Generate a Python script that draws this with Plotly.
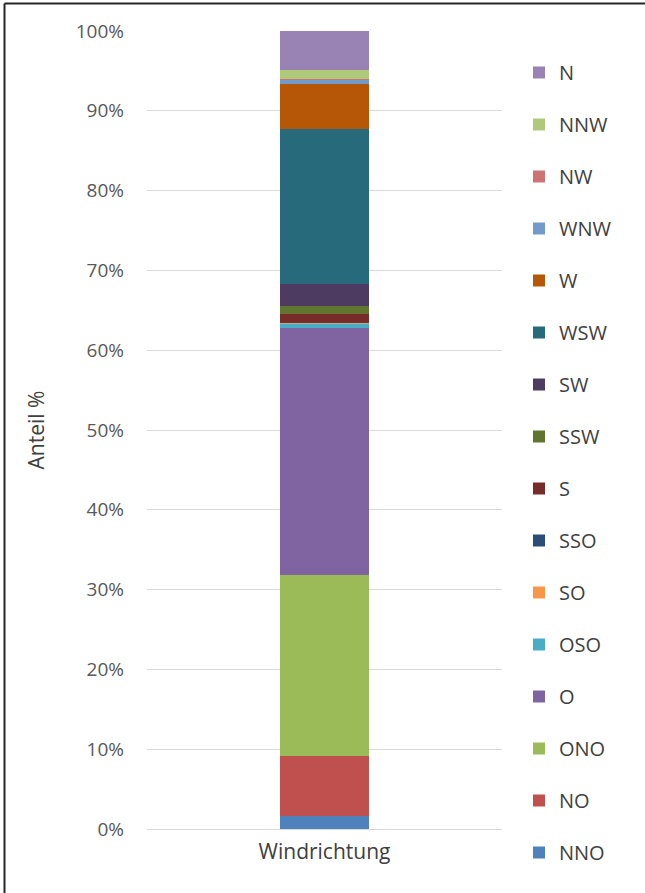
import plotly.graph_objects as go

category = ["Windrichtung"]
directions = ["NNO", "NO", "ONO", "O", "OSO", "SO", "SSO", "S",
              "SSW", "SW", "WSW", "W", "WNW", "NW", "NNW", "N"]
shares = [1.67, 7.43, 22.7, 31.0, 0.5, 0.2, 0.05, 1.0,
          1.0, 2.76, 19.4, 5.68, 0.55, 0.1, 1.13, 4.83]
colors = ["#4F81BD", "#C0504D", "#9BBB59", "#8064A2", "#4BACC6", "#F79646",
          "#2C4D75", "#772C2A", "#5F7530", "#4D3B62", "#276A7C", "#B65708",
          "#729ACA", "#CD7371", "#AFC97A", "#9983B5"]
y_ticks = [0, 10, 20, 30, 40, 50, 60, 70, 80, 90, 100]
y_ticklabels = [f"{v}%" for v in y_ticks]

fig = go.Figure()
n = len(directions)
for i, (d, v, c) in enumerate(zip(directions, shares, colors)):
    fig.add_trace(go.Bar(x=category, y=[v], name=d, marker_color=c,
                         marker_line_width=0, legendgroup=d,
                         legendrank=n - i))

W, H = 645, 893
L, R, T, B = 147, 143, 31, 64
pw, ph = W - L - R, H - T - B

def px_x(p):
    return (p - L) / pw

def px_y(p):
    return (H - B - p) / ph

fig.update_layout(
    width=W, height=H,
    margin=dict(l=L, r=R, t=T, b=B),
    barmode="stack",
    bargap=0.75,
    plot_bgcolor="white",
    paper_bgcolor="white",
    font=dict(family="Open Sans, Noto Sans, sans-serif", size=20, color="#404040"),
    showlegend=True,
    legend=dict(traceorder="grouped", tracegroupgap=23,
                x=px_x(519), xanchor="left", y=px_y(53), yanchor="top",
                font=dict(size=20, color="#404040"),
                maxheight=1000,
                bgcolor="rgba(0,0,0,0)"),
    yaxis=dict(range=[0, 100], tickvals=y_ticks, ticktext=y_ticklabels,
               showgrid=True, gridcolor="#D9D9D9", gridwidth=1,
               zeroline=False, showline=False, ticks="",
               ticklabelstandoff=22,
               tickfont=dict(size=19, color="#595959"),
               title=dict(text="Anteil %", standoff=25,
                          font=dict(size=21, color="#404040"))),
    xaxis=dict(showline=True, linecolor="#D9D9D9", linewidth=1,
               ticks="", tickfont=dict(size=21, color="#404040"),
               ticklabelstandoff=4),
    shapes=[
        dict(type="line", xref="paper", yref="paper",
             x0=px_x(4.5), x1=px_x(645), y0=px_y(3.5), y1=px_y(3.5),
             line=dict(color="#262626", width=2)),
        dict(type="line", xref="paper", yref="paper",
             x0=px_x(4.5), x1=px_x(4.5), y0=px_y(3.5), y1=px_y(893),
             line=dict(color="#262626", width=2)),
    ],
)

fig.write_html("out.html", config={"displayModeBar": False},
               post_script="document.body.style.margin='0';")
